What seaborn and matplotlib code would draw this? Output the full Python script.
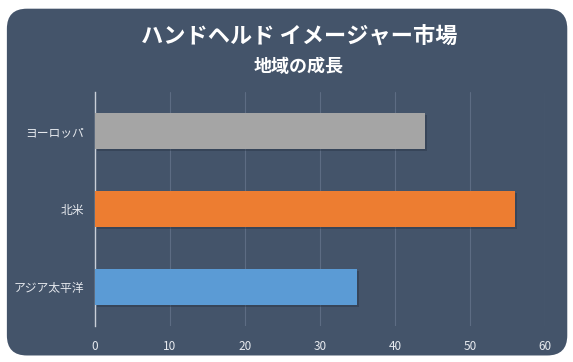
import matplotlib
matplotlib.use("Agg")
import matplotlib.pyplot as plt
import matplotlib.patheffects as pe
from matplotlib.patches import FancyBboxPatch
import seaborn as sns
import pandas as pd

regions = ["ヨーロッパ", "北米", "アジア太平洋"]
growth = [44, 56, 35]
colors = ["#a5a5a5", "#ed7d31", "#5b9bd5"]
x_ticks = [0, 10, 20, 30, 40, 50, 60]
title = "ハンドヘルド イメージャー市場"
subtitle = "地域の成長"

sns.set_theme(style="white")
plt.rcParams["font.family"] = ["Noto Sans CJK JP", "DejaVu Sans"]

df = pd.DataFrame({"region": regions, "growth": growth})

fig = plt.figure(figsize=(5.73, 3.62), dpi=100, facecolor="white")
bg = FancyBboxPatch((0.012, 0.018), 0.978, 0.958,
                    boxstyle="round,pad=0,rounding_size=0.035",
                    transform=fig.transFigure, facecolor="#44546a",
                    edgecolor="none", zorder=-10, mutation_aspect=573/362)
fig.patches.append(bg)

ax = fig.add_axes([0.1658, 0.0994, 0.7853, 0.6464])
ax.set_facecolor("none")
sns.barplot(data=df, x="growth", y="region", hue="region", palette=colors,
            orient="h", width=0.46, legend=False, ax=ax, saturation=1,
            linewidth=0, zorder=3)
for p in ax.patches:
    p.set_linewidth(0)
    p.set_path_effects([pe.SimplePatchShadow(offset=(1.2, -1.5), shadow_rgbFace="#1f2a3a", alpha=0.35), pe.Normal()])

ax.set_xlim(0, 60)
ax.set_ylim(2.5, -0.5)
ax.set_xticks(x_ticks)
ax.set_xticklabels([str(t) for t in x_ticks])
ax.grid(axis="x", color="#5d6c83", linewidth=0.8, zorder=0)
ax.set_axisbelow(True)
for s in ["top", "right", "bottom"]:
    ax.spines[s].set_visible(False)
ax.spines["left"].set_color("#c9cfd8")
ax.spines["left"].set_linewidth(1.0)
ax.tick_params(axis="both", length=0, colors="#e6e9ee", labelsize=8.5, pad=8)
ax.tick_params(axis="x", pad=10, labelsize=8.5)
ax.set_xlabel("")
ax.set_ylabel("")

fig.text(0.522, 0.897, title, ha="center", va="center", color="white",
         fontsize=16, fontweight="bold")
fig.text(0.522, 0.815, subtitle, ha="center", va="center", color="white",
         fontsize=13, fontweight="bold")

fig.savefig("out.png", dpi=100, facecolor="white")
